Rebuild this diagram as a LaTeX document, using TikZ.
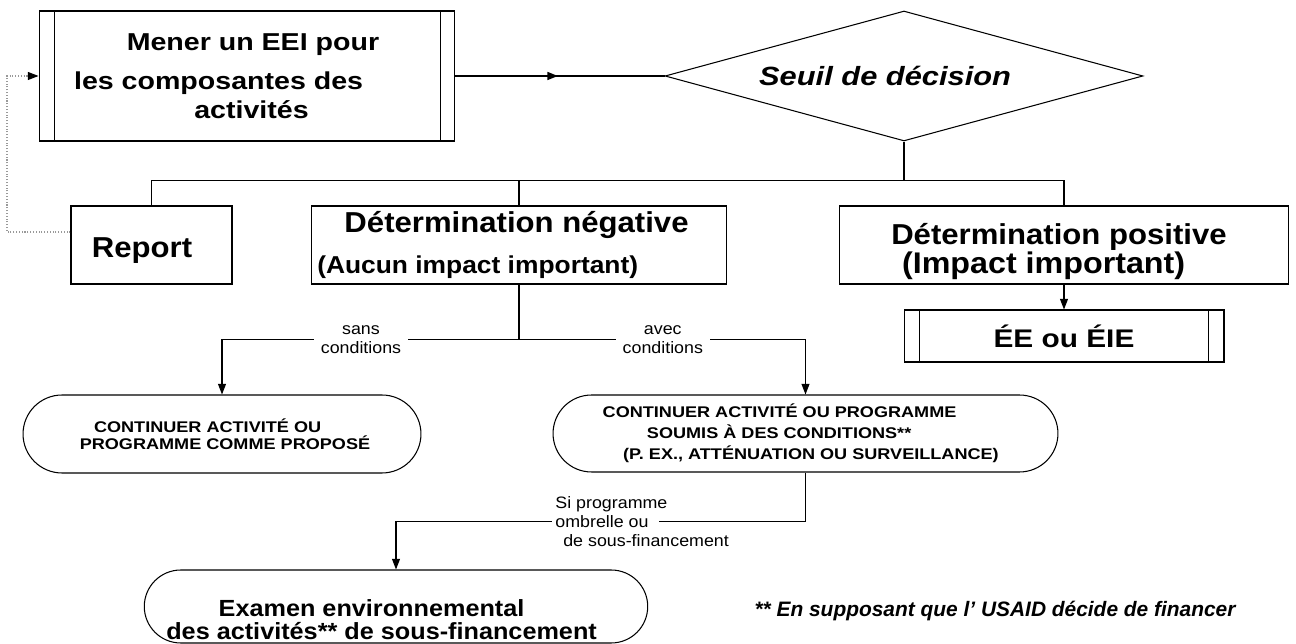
\documentclass[tikz,border=0pt]{standalone}
\usepackage{fontspec}
\setmainfont{Liberation Sans}
\newfontfamily\widesf[FakeStretch=1.17]{Liberation Sans}
\newfontfamily\midsf[FakeStretch=1.08]{Liberation Sans}
\newfontfamily\plainsf{Liberation Sans}
\usepackage{tikz}
\usetikzlibrary{arrows.meta,positioning,shapes.geometric,shapes.misc,calc,
                decorations.markings}

\newcommand{\fmener}{\widesf\bfseries\fontsize{13.9}{16.4}\selectfont}
\newcommand{\fseuil}{\widesf\bfseries\itshape\fontsize{15}{18}\selectfont}
\newcommand{\fhead}{\midsf\bfseries\fontsize{16.4}{19}\selectfont}
\newcommand{\fsub}{\midsf\bfseries\fontsize{13.9}{16}\selectfont}
\newcommand{\fbig}{\midsf\bfseries\fontsize{17}{19}\selectfont}
\newcommand{\fee}{\widesf\bfseries\fontsize{14.5}{17}\selectfont}
\newcommand{\fcaps}{\widesf\bfseries\fontsize{8.8}{9.6}\selectfont}
\newcommand{\fexam}{\midsf\bfseries\fontsize{13.3}{13}\selectfont}
\newcommand{\flab}{\midsf\fontsize{9.4}{11}\selectfont}
\newcommand{\fnote}{\plainsf\bfseries\itshape\fontsize{11.9}{14}\selectfont}
% trailing space that survives the end of a line
\newcommand{\pad}[1]{\hspace*{#1}\mbox{}}
\setlength{\fboxsep}{2pt}

\tikzset{
  box/.style={draw, line width=0.6pt, inner sep=0pt, align=center},
  oval/.style={draw, rounded rectangle, line width=0.6pt, inner sep=0pt, align=center},
  wire/.style={line width=0.6pt},
  arr/.style={-{Triangle[length=6pt,width=4.5pt]}},
  midarr/.style={postaction={decorate}, decoration={markings,
      mark=at position 0.49 with {\arrow{Triangle[length=6pt,width=4.5pt]}}}},
  loopline/.style={draw=gray!80, densely dotted, line width=0.6pt,
      -{Triangle[length=6pt,width=4.5pt,color=black]}},
  cond/.style={fill=white, inner xsep=4pt, inner ysep=1pt, align=center, font=\flab},
  sitext/.style={inner sep=0pt, align=left, font=\flab},
}

\begin{document}
\begin{tikzpicture}[x=0.02cm, y=-0.02cm]
  \useasboundingbox (0,0) rectangle (1296,644);

  % top row
  \node[box, minimum width=8.32cm, minimum height=2.6cm, font=\fmener] (mener) at (247,76)
    {\hspace*{6.8pt}Mener un EEI pour\\[5.7pt]les composantes des\pad{32.3pt}\\\hspace*{5.1pt}activités};
  \draw[wire] ([xshift=0.32cm]mener.north west) -- ([xshift=0.32cm]mener.south west);
  \draw[wire] ([xshift=-0.3cm]mener.north east) -- ([xshift=-0.3cm]mener.south east);
  \node[draw, diamond, aspect=3.68, minimum width=9.56cm, minimum height=2.6cm,
        inner sep=0pt, line width=0.6pt, font=\fseuil] (seuil) at (904,76)
    {Seuil de décision\pad{21.5pt}};
  \draw[line width=1pt, midarr] (mener.east) -- (seuil.west);

  % determinations
  \node[box, minimum width=3.22cm, minimum height=1.56cm, font=\fhead] (report) at (151.5,245)
    {\rule{0pt}{18.2pt}Report\pad{10.8pt}};
  \node[box, minimum width=8.32cm, minimum height=1.56cm, font=\fhead] (neg) at (519,245)
    {Détermination négative\pad{2.8pt}\\[4.2pt]{\fsub (Aucun impact important)}\pad{47pt}};
  \node[box, minimum width=8.97cm, minimum height=1.56cm, font=\fhead] (pos) at (1064,245)
    {\rule{0pt}{20pt}Détermination positive\pad{5.7pt}\\[-2.5pt]{\fbig (Impact important)}\pad{23.2pt}};
  \node[box, minimum width=6.4cm, minimum height=1.04cm, font=\fee] (ee) at (1064,336)
    {ÉE ou ÉIE};
  \draw[wire] ([xshift=0.32cm]ee.north west) -- ([xshift=0.32cm]ee.south west);
  \draw[wire] ([xshift=-0.32cm]ee.north east) -- ([xshift=-0.32cm]ee.south east);

  \coordinate (split) at ($(seuil.south)+(0,39)$);
  \draw[line width=0.8pt] (seuil.south) -- (split);
  \draw[line width=0.8pt] (split) -| (report.north);
  \draw[line width=0.8pt] (split) -| (neg.north);
  \draw[wire] (split) -| (pos.north);
  \draw[wire, arr] (pos.south) -- (ee.north);

  % deferral loops back
  \coordinate (back) at (7,232);
  \draw[loopline] (report.west |- back) -- (back) |- (mener.west);

  % outcomes of negative determination
  \node[oval, minimum width=7.96cm, minimum height=1.56cm, font=\fcaps] (cont1) at (222,434)
    {CONTINUER ACTIVITÉ OU\pad{16.4pt}\\\hspace*{3.4pt}PROGRAMME COMME PROPOSÉ};
  \node[oval, minimum width=10.1cm, minimum height=1.54cm, font=\fcaps] (cont2) at (805.5,433.5)
    {CONTINUER ACTIVITÉ OU PROGRAMME\pad{29.5pt}\\[2.3pt]SOUMIS À DES CONDITIONS**\pad{30pt}\\[2.3pt]\hspace*{6.2pt}(P. EX., ATTÉNUATION OU SURVEILLANCE)};

  \coordinate (fork) at ($(neg.south)+(0,55)$);
  \draw[wire] (neg.south) -- (fork);
  \draw[wire, arr] (fork) -| node[cond, pos=0.266] (sans) {sans\\conditions} (cont1.north);
  \draw[wire, arr] (fork) -| node[cond, pos=0.251] (avec) {avec\\conditions} (cont2.north);

  % umbrella programmes
  \node[oval, minimum width=9.32cm, minimum height=1.46cm, font=\fexam] (exam) at (396,606.5)
    {\rule{0pt}{25pt}Examen environnemental\pad{27.8pt}\\des activités** de sous-financement\pad{16.4pt}};
  \coordinate (turn) at ($(exam.north)+(0,-48)$);
  \draw[wire, arr] (cont2.south) |- node[sitext, pos=0.806, anchor=west] (si)
    {Si programme\\\hspace*{-2pt}\smash{\colorbox{white}{ombrelle ou\hspace*{4pt}}}\\\hspace*{4.5pt}de sous-financement}
    (turn) -- (exam.north);

  \node[font=\fnote] (note) at (995,611) {** En supposant que l’ USAID décide de financer};
\end{tikzpicture}
\end{document}
